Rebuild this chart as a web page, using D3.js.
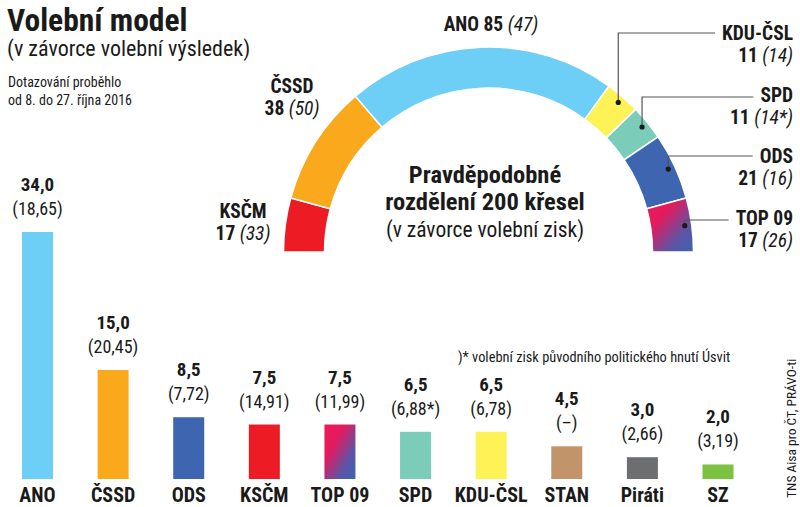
<!DOCTYPE html>
<html><head><meta charset="utf-8">
<script src="https://cdn.jsdelivr.net/npm/d3@7"></script>
<style>body{margin:0;background:#fff}svg{display:block}</style>
</head><body><svg id="c" width="800" height="507"></svg>
<script>
// ---- data ----
const parties = ["ANO","ČSSD","ODS","KSČM","TOP 09","SPD","KDU-ČSL","STAN","Piráti","SZ"];
const pollValues = [34.0,15.0,8.5,7.5,7.5,6.5,6.5,4.5,3.0,2.0];
const pollLabels = ["34,0","15,0","8,5","7,5","7,5","6,5","6,5","4,5","3,0","2,0"];
const electionLabels = ["(18,65)","(20,45)","(7,72)","(14,91)","(11,99)","(6,88*)","(6,78)","(–)","(2,66)","(3,19)"];
const partyColors = ["#6dcff6","#f9a91b","#3d65b0","#ed1c24","url(#top09)","#7bcdb9","#fff256","#c2946a","#6d6e70","#7dc142"];

const seatParties = ["KSČM","ČSSD","ANO","KDU-ČSL","SPD","ODS","TOP 09"];
const seats = [17,38,85,11,11,21,17];
const prevSeats = ["33","50","47","14","14*","16","26"];
const seatColors = ["#ed1c24","#f9a91b","#6dcff6","#fff256","#7bcdb9","#3d65b0","url(#top09)"];

const FONT = '"Liberation Sans Narrow","Roboto Condensed","DejaVu Sans Condensed",Roboto,sans-serif';
const svg = d3.select("#c").style("font-family", FONT);

// gradient for TOP 09
const defs = svg.append("defs");
const g = defs.append("linearGradient").attr("id","top09")
  .attr("x1",0).attr("y1",0).attr("x2",1).attr("y2",1);
[[0,"#ec1a5a"],[0.33,"#e41a5e"],[0.72,"#5b55a6"],[1,"#3d63b0"]].forEach(s=>
  g.append("stop").attr("offset",s[0]).attr("stop-color",s[1]));

// ---- titles ----
svg.append("text").attr("x",7).attr("y",31).attr("font-size",31.5).attr("font-weight","bold")
  .attr("fill","#1a1a1a").text("Volební model");
svg.append("text").attr("x",7).attr("y",56).attr("font-size",22).attr("fill","#1a1a1a")
  .text("(v závorce volební výsledek)");
svg.append("text").attr("x",8).attr("y",87).attr("font-size",14).attr("fill","#1a1a1a")
  .text("Dotazování proběhlo");
svg.append("text").attr("x",8).attr("y",105).attr("font-size",14).attr("fill","#1a1a1a")
  .text("od 8. do 27. října 2016");

// ---- bars ----
const x = d3.scalePoint().domain(parties).range([37.5, 718]);
const y = d3.scaleLinear().domain([0, 34]).range([479, 232]);
const bw = 31;
const bars = svg.append("g");
parties.forEach((p,i)=>{
  const cx = x(p), top = y(pollValues[i]);
  bars.append("rect").attr("x",cx-bw/2).attr("y",top).attr("width",bw)
    .attr("height",y(0)-top).attr("fill",partyColors[i]);
  bars.append("text").attr("x",cx).attr("y",top-41).attr("text-anchor","middle")
    .attr("font-size",19).attr("font-weight","bold").attr("fill","#1a1a1a").text(pollLabels[i]);
  bars.append("text").attr("x",cx).attr("y",top-17).attr("text-anchor","middle")
    .attr("font-size",18).attr("fill","#1a1a1a").text(electionLabels[i]);
  bars.append("text").attr("x",cx).attr("y",502).attr("text-anchor","middle")
    .attr("font-size",20).attr("font-weight","bold").attr("fill","#1a1a1a").text(p);
});

// footnote + source
svg.append("text").attr("x",458).attr("y",362).attr("font-size",14.4).attr("fill","#1a1a1a")
  .text(")* volební zisk původního politického hnutí Úsvit");
svg.append("text").attr("transform","translate(796,498) rotate(-90)").attr("font-size",13.5)
  .attr("fill","#1a1a1a").text("TNS Aisa pro ČT,  PRÁVO-ti");

// ---- semicircle ----
const cx0 = 488.5, cy0 = 252, rIn = 164, rOut = 205;
const pie = d3.pie().sort(null).startAngle(-Math.PI/2).endAngle(Math.PI/2);
const arcs = pie(seats);
const arc = d3.arc().innerRadius(rIn).outerRadius(rOut);
const hemi = svg.append("g").attr("transform",`translate(${cx0},${cy0})`);
hemi.selectAll("path").data(arcs).join("path")
  .attr("d",arc).attr("fill",(d,i)=>seatColors[i])
  .attr("stroke","#fff").attr("stroke-width",1.5);

// center text
svg.append("text").attr("x",485).attr("y",183).attr("text-anchor","middle").attr("font-size",24.5)
  .attr("font-weight","bold").attr("fill","#1a1a1a").text("Pravděpodobné");
svg.append("text").attr("x",485).attr("y",210).attr("text-anchor","middle").attr("font-size",24.5)
  .attr("font-weight","bold").attr("fill","#1a1a1a").text("rozdělení 200 křesel");
svg.append("text").attr("x",485).attr("y",237).attr("text-anchor","middle").attr("font-size",21.5)
  .attr("fill","#1a1a1a").text("(v závorce volební zisk)");

function seatLine(t, i){
  t.append("tspan").attr("font-weight","bold").text(seats[i] + " ");
  t.append("tspan").attr("font-style","italic").text("(" + prevSeats[i] + ")");
}
const LS = 19.5;
// ANO
{
  const t = svg.append("text").attr("x",491).attr("y",31).attr("text-anchor","middle")
    .attr("font-size",LS).attr("fill","#1a1a1a");
  t.append("tspan").attr("font-weight","bold").text(seatParties[2] + " " + seats[2] + " ");
  t.append("tspan").attr("font-style","italic").text("(" + prevSeats[2] + ")");
}
// left labels
[[1,292,93],[0,243,218]].forEach(([i,lx,ly])=>{
  svg.append("text").attr("x",lx).attr("y",ly).attr("text-anchor","middle").attr("font-size",LS)
    .attr("font-weight","bold").attr("fill","#1a1a1a").text(seatParties[i]);
  seatLine(svg.append("text").attr("x",lx).attr("y",ly+22).attr("text-anchor","middle")
    .attr("font-size",LS).attr("fill","#1a1a1a"), i);
});
// right labels with leader lines
[[3,40,33],[4,102,97],[5,163,156],[6,225,220]].forEach(([i,ly,lineY])=>{
  const name = svg.append("text").attr("x",793).attr("y",ly).attr("text-anchor","end").attr("font-size",LS)
    .attr("font-weight","bold").attr("fill","#1a1a1a").text(seatParties[i]);
  seatLine(svg.append("text").attr("x",793).attr("y",ly+22).attr("text-anchor","end")
    .attr("font-size",LS).attr("fill","#1a1a1a"), i);
  const w = name.node().getComputedTextLength();
  const a = (arcs[i].startAngle + arcs[i].endAngle)/2;
  const dx = cx0 + 198*Math.sin(a), dy = cy0 - 198*Math.cos(a);
  svg.append("path").attr("d",`M${dx},${dy}V${lineY}H${793-w-7}`)
    .attr("fill","none").attr("stroke","#555").attr("stroke-width",1.2);
  svg.append("circle").attr("cx",dx).attr("cy",dy).attr("r",2.6).attr("fill","#1a1a1a");
});
</script></body></html>
